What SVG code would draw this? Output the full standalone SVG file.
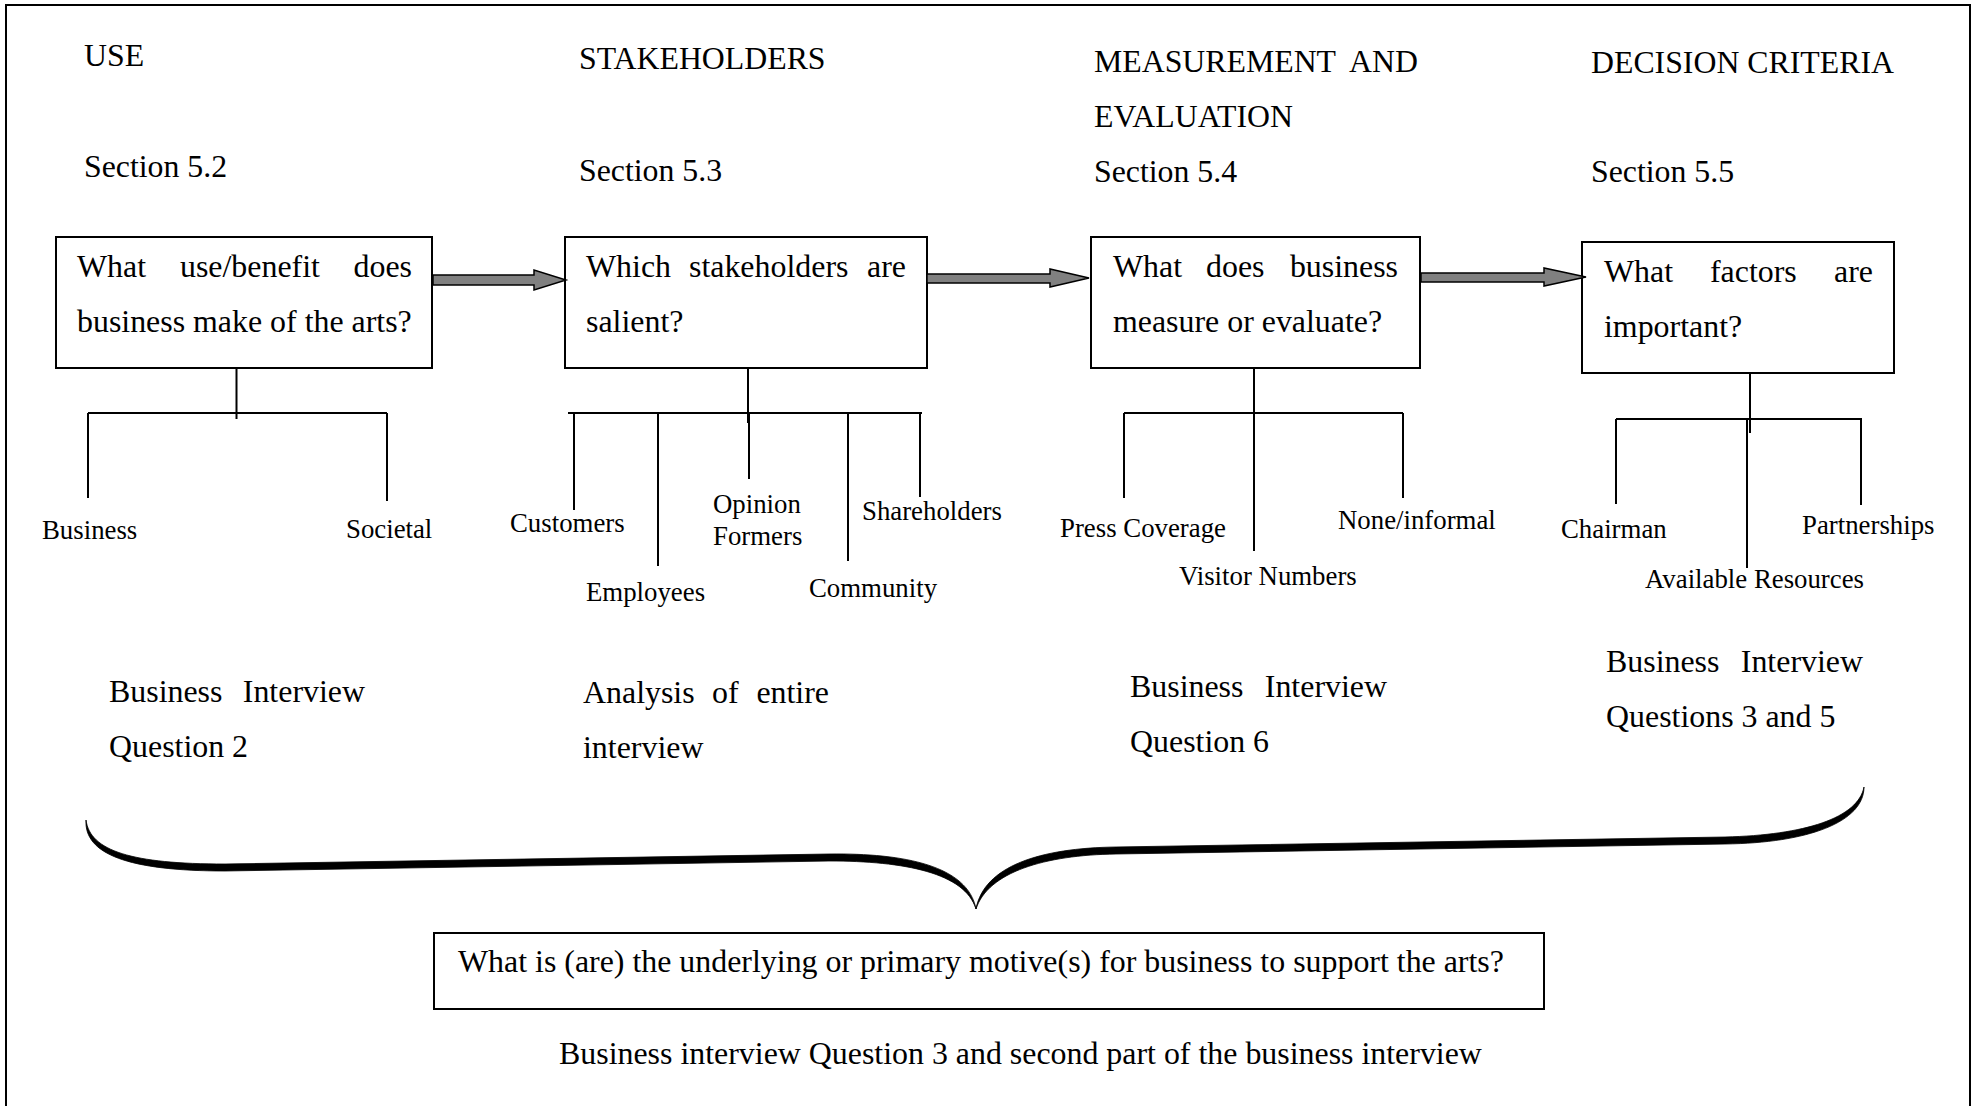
<svg xmlns="http://www.w3.org/2000/svg" width="1977" height="1106" viewBox="0 0 1977 1106">
  <style>
    text { font-family: "Liberation Serif", "Times New Roman", serif; fill: #000; }
    .hd { font-size: 31.8px; }
    .bx { font-size: 31.9px; }
    .lb { font-size: 26.8px; }
    .src { font-size: 31.9px; }
    .box { fill: #fff; stroke: #000; stroke-width: 2; }
    .ln { stroke: #000; stroke-width: 2; fill: none; }
    .arrow { fill: #808080; stroke: #000; stroke-width: 1.5; stroke-linejoin: miter; }
    .brace { fill: #000; stroke: #000; stroke-width: 0.8; stroke-linejoin: round; }
  </style>

  <rect width="1977" height="1106" fill="#fff"/>
  <!-- outer frame (open at the bottom edge) -->
  <rect x="6" y="5" width="1964" height="1120" fill="none" stroke="#000" stroke-width="2"/>

  <!-- column headings -->
  <g id="headings">
    <text class="hd" x="84" y="66">USE</text>
    <text class="hd" x="84" y="177">Section 5.2</text>
    <text class="hd" x="579" y="69">STAKEHOLDERS</text>
    <text class="hd" x="579" y="181">Section 5.3</text>
    <text class="hd" x="1094" y="72">MEASUREMENT</text>
    <text class="hd" x="1418" y="72" text-anchor="end">AND</text>
    <text class="hd" x="1094" y="127">EVALUATION</text>
    <text class="hd" x="1094" y="182">Section 5.4</text>
    <text class="hd" x="1591" y="73">DECISION CRITERIA</text>
    <text class="hd" x="1591" y="182">Section 5.5</text>
  </g>

  <!-- question boxes -->
  <g id="node-use">
    <rect class="box" x="56" y="237" width="376" height="131"/>
    <text class="bx" y="277"><tspan x="77">What</tspan><tspan x="180">use/benefit</tspan><tspan x="412" text-anchor="end">does</tspan></text>
    <text class="bx" x="77" y="332">business make of the arts?</text>
  </g>
  <g id="node-stakeholders">
    <rect class="box" x="565" y="237" width="362" height="131"/>
    <text class="bx" y="277"><tspan x="586">Which</tspan><tspan x="689">stakeholders</tspan><tspan x="906" text-anchor="end">are</tspan></text>
    <text class="bx" x="586" y="332">salient?</text>
  </g>
  <g id="node-measurement">
    <rect class="box" x="1091" y="237" width="329" height="131"/>
    <text class="bx" y="277"><tspan x="1113">What</tspan><tspan x="1206">does</tspan><tspan x="1398" text-anchor="end">business</tspan></text>
    <text class="bx" x="1113" y="332">measure or evaluate?</text>
  </g>
  <g id="node-decision">
    <rect class="box" x="1582" y="242" width="312" height="131"/>
    <text class="bx" y="282"><tspan x="1604">What</tspan><tspan x="1710">factors</tspan><tspan x="1873" text-anchor="end">are</tspan></text>
    <text class="bx" x="1604" y="337">important?</text>
  </g>

  <!-- sub-category labels -->
  <g id="labels-use">
    <text class="lb" x="42" y="539">Business</text>
    <text class="lb" x="346" y="538">Societal</text>
  </g>
  <g id="labels-stakeholders">
    <text class="lb" x="510" y="532">Customers</text>
    <text class="lb" x="586" y="601">Employees</text>
    <text class="lb" x="713" y="513">Opinion</text>
    <text class="lb" x="713" y="545">Formers</text>
    <text class="lb" x="809" y="597">Community</text>
    <text class="lb" x="862" y="520">Shareholders</text>
  </g>
  <g id="labels-measurement">
    <text class="lb" x="1060" y="537">Press Coverage</text>
    <text class="lb" x="1179" y="585">Visitor Numbers</text>
    <text class="lb" x="1338" y="529">None/informal</text>
  </g>
  <g id="labels-decision">
    <text class="lb" x="1561" y="538">Chairman</text>
    <text class="lb" x="1645" y="588">Available Resources</text>
    <text class="lb" x="1802" y="534">Partnerships</text>
  </g>

  <!-- data sources under each column -->
  <g id="sources">
    <text class="src" y="702"><tspan x="109">Business</tspan><tspan x="365" text-anchor="end">Interview</tspan></text>
    <text class="src" x="109" y="757">Question 2</text>
    <text class="src" y="703"><tspan x="583">Analysis</tspan><tspan x="712">of</tspan><tspan x="829" text-anchor="end">entire</tspan></text>
    <text class="src" x="583" y="758">interview</text>
    <text class="src" y="697"><tspan x="1130">Business</tspan><tspan x="1387" text-anchor="end">Interview</tspan></text>
    <text class="src" x="1130" y="752">Question 6</text>
    <text class="src" y="672"><tspan x="1606">Business</tspan><tspan x="1863" text-anchor="end">Interview</tspan></text>
    <text class="src" x="1606" y="727">Questions 3 and 5</text>
  </g>

  <!-- primary motive box -->
  <g id="node-motive">
    <rect class="box" x="434" y="933" width="1110" height="76"/>
    <text class="bx" x="458" y="972">What is (are) the underlying or primary motive(s) for business to support the arts?</text>
  </g>
  <text class="src" x="559" y="1064">Business interview Question 3 and second part of the business interview</text>

  <!-- connectors -->
  <g id="connectors">
    <!-- block arrows between question boxes -->
    <polygon class="arrow" points="433,275 534,275 534,270 566,280 534,290 534,285 433,285"/>
    <polygon class="arrow" points="927,274 1050,274 1050,269 1089,278 1050,287 1050,283 927,283"/>
    <polygon class="arrow" points="1421,273 1544,273 1544,268 1586,277 1544,286 1544,282 1421,282"/>

    <!-- use tree -->
    <path class="ln" d="M236.5,368 V419 M88,413 H387 M88,413 V498 M387,413 V501"/>
    <!-- stakeholder tree -->
    <path class="ln" d="M748,368 V423 M568,413 H922 M574,413 V510 M658,413 V566 M749,413 V479 M848,413 V561 M920,413 V497"/>
    <!-- measurement tree -->
    <path class="ln" d="M1254,368 V551 M1124,413 H1403 M1124,413 V498 M1403,413 V498"/>
    <!-- decision tree -->
    <path class="ln" d="M1750,373 V433 M1616,419 H1862 M1616,419 V504 M1747,419 V568 M1861,419 V505"/>

    <!-- brace gathering the four columns: tapered filled halves -->
    <path class="brace" d="M86,820 C90,851 132,864 225,864 L829,854 C905,853 968,866 976,909 C965,873 905,861 829,861 L225,871 C128,871 84,854 86,820 Z"/>
    <path class="brace" d="M976,909 C984,866 1040,848 1116,847 L1725,837 C1805,835 1858,818 1864,787 C1864,822 1808,843 1725,844 L1116,854 C1045,855 988,872 976,909 Z"/>
  </g>
</svg>
